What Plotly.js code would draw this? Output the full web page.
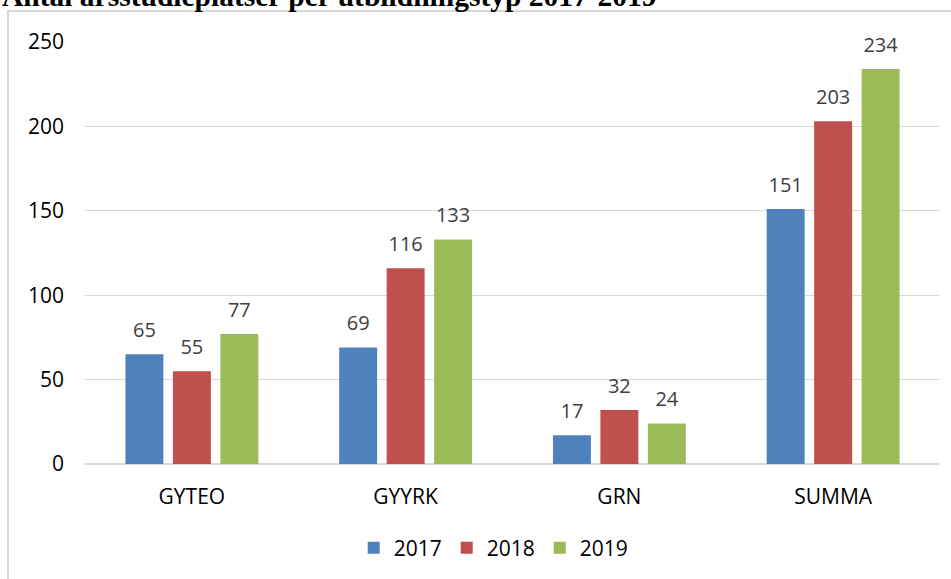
<!DOCTYPE html>
<html>
<head>
<meta charset="utf-8">
<script src="https://cdn.plot.ly/plotly-3.0.1.min.js"></script>
<style>html,body{margin:0;padding:0;background:#fff;}#chart{width:951px;height:579px;}</style>
</head>
<body>
<div id="chart"></div>
<script>
const categories = ["GYTEO", "GYYRK", "GRN", "SUMMA"];
const years = ["2017", "2018", "2019"];
const values2017 = [65, 69, 17, 151];
const values2018 = [55, 116, 32, 203];
const values2019 = [77, 133, 24, 234];
const yTicks = [0, 50, 100, 150, 200, 250];
const titleText = "Antal årsstudieplatser per utbildningstyp 2017-2019";

const colors = ["#4F81BD", "#C0504D", "#9BBB59"];
const series = [values2017, values2018, values2019];
const font = "'Open Sans', 'Noto Sans', sans-serif";
const gap = 0.334;

const traces = [];
series.forEach((vals, i) => {
  traces.push({
    type: "bar", name: years[i], x: categories, y: vals,
    marker: {color: colors[i]}, hoverinfo: "skip"
  });
});
series.forEach((vals, i) => {
  traces.push({
    type: "scatter", mode: "markers+text", x: categories, y: vals,
    text: vals.map(String), textposition: "top center",
    textfont: {family: font, size: 20, color: "#404040"},
    marker: {size: 18, color: "rgba(0,0,0,0)"},
    showlegend: false, hoverinfo: "skip", cliponaxis: false
  });
});

const layout = {
  width: 951, height: 579,
  margin: {l: 85, r: 11, t: 42, b: 115},
  paper_bgcolor: "#fff", plot_bgcolor: "#fff",
  barmode: "group", bargap: gap, bargroupgap: 0.2,
  scattermode: "group", scattergap: gap,
  showlegend: true,
  legend: {orientation: "h", x: 0.478, xanchor: "center", y: -0.199, yanchor: "middle",
           font: {family: font, size: 21, color: "#000"}, traceorder: "normal"},
  xaxis: {type: "category", showgrid: false, zeroline: false, showline: false, ticks: "",
          tickfont: {family: font, size: 21, color: "#000"}, ticklabelstandoff: 18},
  yaxis: {range: [0, 250], tickvals: yTicks, showgrid: true, gridcolor: "#d9d9d9", gridwidth: 1.3,
          zeroline: true, zerolinecolor: "#d9d9d9", zerolinewidth: 1.3, showline: false, ticks: "",
          tickfont: {family: font, size: 21, color: "#000"}, ticklabelstandoff: 20},
  shapes: [{type: "rect", xref: "paper", yref: "paper", x0: -0.09, x1: 1.2, y0: -0.4, y1: 1.0735,
            line: {color: "#d9d9d9", width: 2}, fillcolor: "rgba(0,0,0,0)", layer: "below"}],
  annotations: [{xref: "paper", yref: "paper", x: -0.0994, y: 1.066, xanchor: "left", yanchor: "bottom",
                 text: "<b>" + titleText + "</b>", showarrow: false,
                 font: {family: "'Liberation Serif', 'Times New Roman', serif", size: 29.5, color: "#000"}}]
};

Plotly.newPlot("chart", traces, layout, {displayModeBar: false, staticPlot: true});
</script>
</body>
</html>
